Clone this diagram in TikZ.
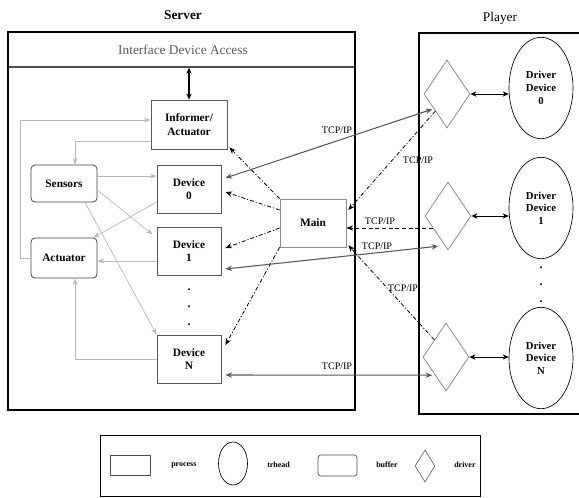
\documentclass[tikz,border=0pt]{standalone}
\usepackage{fontspec}
\setmainfont{Liberation Serif}
\usetikzlibrary{arrows.meta,shapes.geometric,fit}
\begin{document}
\begin{tikzpicture}[x=0.75pt,y=-0.75pt,
  proc/.style={draw=black!65, line width=0.6pt, inner sep=1pt, align=center,
    font=\fontsize{8.5}{10}\selectfont\bfseries, minimum width=48pt, minimum height=36pt},
  buf/.style={proc, draw=black!75, rounded corners=3pt},
  drv/.style={diamond, draw=black!45, line width=0.6pt, inner sep=0pt, minimum width=34.5pt, minimum height=51pt},
  thr/.style={ellipse, draw=black, line width=0.5pt, inner sep=0pt, minimum width=48pt, minimum height=76pt,
    align=center, font=\fontsize{8}{9.5}\selectfont\bfseries},
  gl/.style={draw=black!28, line width=0.5pt, -{Stealth[length=5pt,width=3.5pt]}},
  dl/.style={draw=black, line width=0.6pt, dash pattern=on 3pt off 1.5pt on 0.8pt off 1.5pt, -{Stealth[length=5pt,width=4pt]}},
  sl/.style={draw=black!65, line width=0.8pt, {Stealth[length=5pt,width=4pt]}-{Stealth[length=5pt,width=4pt]}},
  bl/.style={draw=black, line width=0.7pt, {Stealth[length=4.5pt,width=4pt]}-{Stealth[length=4.5pt,width=4pt]}},
  tcp/.style={font=\fontsize{7.5}{8}\selectfont, inner sep=0pt},
  dots/.style={font=\bfseries\fontsize{9}{9}\selectfont, inner sep=0pt},
  leg/.style={font=\fontsize{6}{7}\selectfont\bfseries, inner sep=0pt, anchor=west}
]
\useasboundingbox (0,0) rectangle (579,497);
\fill[white] (0,0) rectangle (579,497);

% titles
\node[font=\fontsize{10}{12}\selectfont\bfseries] (serverlbl) at (183,15) {Server};
\node[font=\fontsize{10}{12}\selectfont] (playerlbl) at (500,18) {Player};

% server frame and header
\node[fit={(8,32) (355,67)}, inner sep=0pt, draw=black!70, line width=1.2pt] (iface) {};
\node[font=\fontsize{10}{12}\selectfont, text=black!65] (ifacetxt) at (183,50) {Interface Device Access};
\node[fit={(8,32) (355,410)}, inner sep=0pt, draw, line width=1.5pt] (server) {};

% player frame
\node[fit={(419,33) (583,414)}, inner sep=0pt, draw, line width=1.3pt] (player) {};

% server processes
\node[proc, minimum width=57pt, minimum height=36.75pt] (informer) at (189,124.5) {Informer/\\Actuator};
\node[proc] (device0) at (189,189) {Device\\0};
\node[proc] (device1) at (189,251) {Device\\1};
\node[proc] (deviceN) at (189,359) {Device\\N};
\node[proc, draw=black!45, minimum width=49.5pt, minimum height=36pt] (main) at (313,223) {Main};
\node[buf, minimum width=49.5pt, minimum height=27.75pt] (sensors) at (64,183.5) {Sensors};
\node[buf, minimum width=49.5pt, minimum height=30pt] (actuator) at (64,258) {Actuator};

\node[dots] (sd1) at (189,290) {.};
\node[dots] (sd2) at (189,307) {.};
\node[dots] (sd3) at (189,325) {.};

% player drivers and threads
\node[drv] (d0) at (447,94) {};
\node[drv] (d1) at (448,216) {};
\node[drv] (dN) at (446,357) {};
\node[thr] (e0) at (541,88) {Driver\\Device\\0};
\node[thr] (e1) at (541,208) {Driver\\Device\\1};
\node[thr] (eN) at (541,358) {Driver\\Device\\N};
\node[dots] (pd1) at (541,268) {.};
\node[dots] (pd2) at (541,285) {.};
\node[dots] (pd3) at (541,302) {.};

% header <-> informer
\draw[bl, line width=0.9pt] (informer.north |- iface.south) -- (informer.north);

% gray internal connectors
\coordinate (cL) at (20,120);
\draw[gl] (actuator.west) -| (cL) -- (cL -| informer.west);
\coordinate (cI) at (75,141);
\draw[gl] (cI -| informer.west) -- (cI) -- (cI |- sensors.north);
\coordinate (s0) at ([yshift=5.6pt]sensors.east);
\draw[gl] (s0) -- (s0 -| device0.west);
\draw[gl] ([yshift=-4.9pt]sensors.east) -- ([shift={(-4,8)}]device1.north west);
\draw[gl] ([xshift=15.75pt]sensors.south) -- (deviceN.north west);
\draw[gl] ([yshift=-9.75pt]device0.west) -- ([xshift=-3pt]actuator.north east);
\coordinate (a1) at ([yshift=-2.25pt]actuator.east);
\draw[gl] (a1 -| device1.west) -- (a1);
\draw[gl] (deviceN.west) -| ([xshift=8.25pt]actuator.south);

% dashed from Main
\draw[dl] (main.north west) -- ([shift={(2,-2)}]informer.south east);
\draw[dl] ([yshift=9.75pt]main.west) -- ([shift={(4,3)}]device0.east);
\draw[dl] ([yshift=-3.75pt]main.west) -- ([shift={(4,-3)}]device1.east);
\draw[dl] (main.south west) -- ([shift={(4,-14)}]deviceN.east);

% dashed from drivers to Main
\draw[dl] (d0.south west) -- ([shift={(2,-13)}]main.east);
\draw[dl, dash pattern=on 3pt off 2pt] ([shift={(8,12)}]d1.west) -- ([yshift=-3.75pt]main.east);
\draw[dl] (dN.north west) -- ([shift={(2,-2)}]main.south east);

% solid TCP/IP links
\draw[sl] ([shift={(4,-11)}]device0.east) -- ([shift={(-3,-2)}]d0.south west);
\draw[sl] ([shift={(4,18)}]device1.east) -- ([shift={(2,13)}]d1.south west);
\draw[sl] ([shift={(4,16)}]deviceN.east) -- ([shift={(-2,1)}]dN.south west);

% driver <-> thread
\draw[bl] (d0.east) -- (d0.east -| e0.west);
\draw[bl] (d1.east) -- (d1.east -| e1.west);
\draw[bl] (dN.east) -- (dN.east -| eN.west);

% TCP/IP labels
\node[tcp] (t1) at (337,130) {TCP/IP};
\node[tcp] (t2) at (418,160) {TCP/IP};
\node[tcp] (t3) at (380,221) {TCP/IP};
\node[tcp] (t4) at (377,246) {TCP/IP};
\node[tcp] (t5) at (403,288) {TCP/IP};
\node[tcp] (t6) at (337,366) {TCP/IP};

% legend
\node[fit={(100,435) (480,496)}, inner sep=0pt, draw, line width=0.6pt] (legend) {};
\node[draw=black!70, line width=0.5pt, minimum width=30pt, minimum height=15pt, inner sep=0pt] (lproc) at (130,465) {};
\node[leg] (lproctxt) at (171,465) {process};
\node[ellipse, draw, line width=0.5pt, minimum width=21.75pt, minimum height=32.25pt, inner sep=0pt] (lthr) at (233,463.5) {};
\node[leg] (lthrtxt) at (267,465) {trhead};
\node[draw=black!70, line width=0.5pt, rounded corners=2pt, minimum width=29.25pt, minimum height=15.75pt, inner sep=0pt] (lbuf) at (337.5,465.5) {};
\node[leg] (lbuftxt) at (376,465) {buffer};
\node[diamond, draw=black!60, line width=0.5pt, minimum width=15pt, minimum height=24pt, inner sep=0pt] (ldrv) at (425,466) {};
\node[leg] (ldrvtxt) at (454,465) {driver};
\end{tikzpicture}
\end{document}
